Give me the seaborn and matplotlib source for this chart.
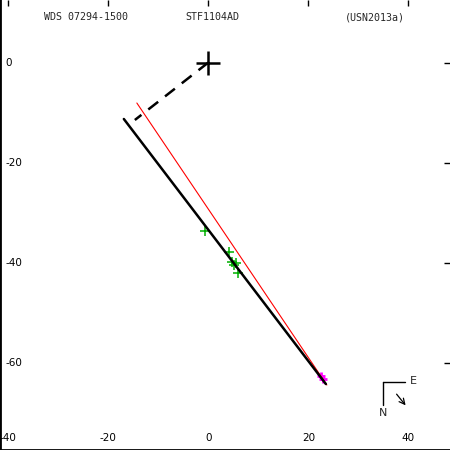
import matplotlib
matplotlib.use("Agg")
import matplotlib.pyplot as plt
import pandas as pd
import seaborn as sns

# orbit (edge-on, drawn as a line), in arcsec-ish units
orbit_x = [-16.9, 23.5]
orbit_y = [-11.3, -64.3]
# second orbit solution (red)
red_x = [-14.3, 23.7]
red_y = [-8.1, -64.5]
# line of nodes (dashed)
node_x = [0.0, -14.7]
node_y = [0.0, -11.5]
# measurements
green_x = [-0.7, 4.1, 4.7, 5.5, 5.1, 5.9]
green_y = [-33.7, -37.9, -39.9, -40.1, -40.5, -42.1]
magenta_x = [22.5, 23.0]
magenta_y = [-62.6, -63.2]

xticks = [-40, -20, 0, 20, 40]
yticks = [0, -20, -40, -60]

sns.set_style("white")
plt.rcParams['font.family'] = ['DejaVu Sans']

fig = plt.figure(figsize=(4.5, 4.5), dpi=100)
ax = fig.add_axes([0, 0, 1, 1])

sns.lineplot(x=red_x, y=red_y, ax=ax, color='#ff0000', lw=0.8, sort=False)
sns.lineplot(x=orbit_x, y=orbit_y, ax=ax, color='black', lw=1.8, sort=False)
ax.plot(node_x, node_y, color='black', lw=1.8, dashes=(5, 3.5))
sns.scatterplot(x=green_x, y=green_y, ax=ax, marker='+', color='#00b000', s=45, linewidth=1.1)
sns.scatterplot(x=magenta_x, y=magenta_y, ax=ax, marker='+', color='#ff00ff', s=30, linewidth=2)
ax.plot([0], [0], marker='+', color='black', ms=17, mew=1.8)

ax.set_xlim(-41.67, 48.33)
ax.set_ylim(-77.5, 12.5)
ax.set_xticks(xticks)
ax.set_yticks(yticks)
ax.set_xticklabels([str(t) for t in xticks])
ax.set_yticklabels([str(t) for t in yticks])

for s in ['top', 'right']:
    ax.spines[s].set_visible(False)
ax.spines['left'].set_linewidth(2)
ax.spines['bottom'].set_linewidth(2)
ax.spines['left'].set_color('black')
ax.spines['bottom'].set_color('black')

ax.tick_params(axis='both', which='both', direction='in', length=4,
               width=1, color='black', top=True, right=True,
               labelsize=7.5, labelcolor='black')
ax.tick_params(axis='x', pad=-5)
ax.tick_params(axis='y', pad=-4)
for lab in ax.get_xticklabels():
    lab.set_va('bottom')
for lab in ax.get_yticklabels():
    lab.set_ha('left')

mono = dict(family='DejaVu Sans Mono', fontsize=7.2, va='center', ha='center',
            transform=ax.transAxes)
ax.text(86 / 450, 1 - 17 / 450, 'WDS 07294-1500', **mono)
ax.text(212.5 / 450, 1 - 17 / 450, 'STF1104AD', **mono)
ax.text(374.5 / 450, 1 - 17 / 450, '(USN2013a)', **mono)

# compass
ax.plot([34.9, 39.3], [-63.9, -63.9], color='black', lw=1)
ax.plot([34.9, 34.9], [-63.9, -68.5], color='black', lw=1)
ax.text(40.3, -63.6, 'E', fontsize=8, ha='left', va='center')
ax.text(34.9, -69.2, 'N', fontsize=8, ha='center', va='top')
ax.annotate('', xy=(39.8, -69.0), xytext=(37.3, -65.9),
            arrowprops=dict(arrowstyle='->', color='black', lw=0.9))

fig.savefig('out.png', dpi=100)
